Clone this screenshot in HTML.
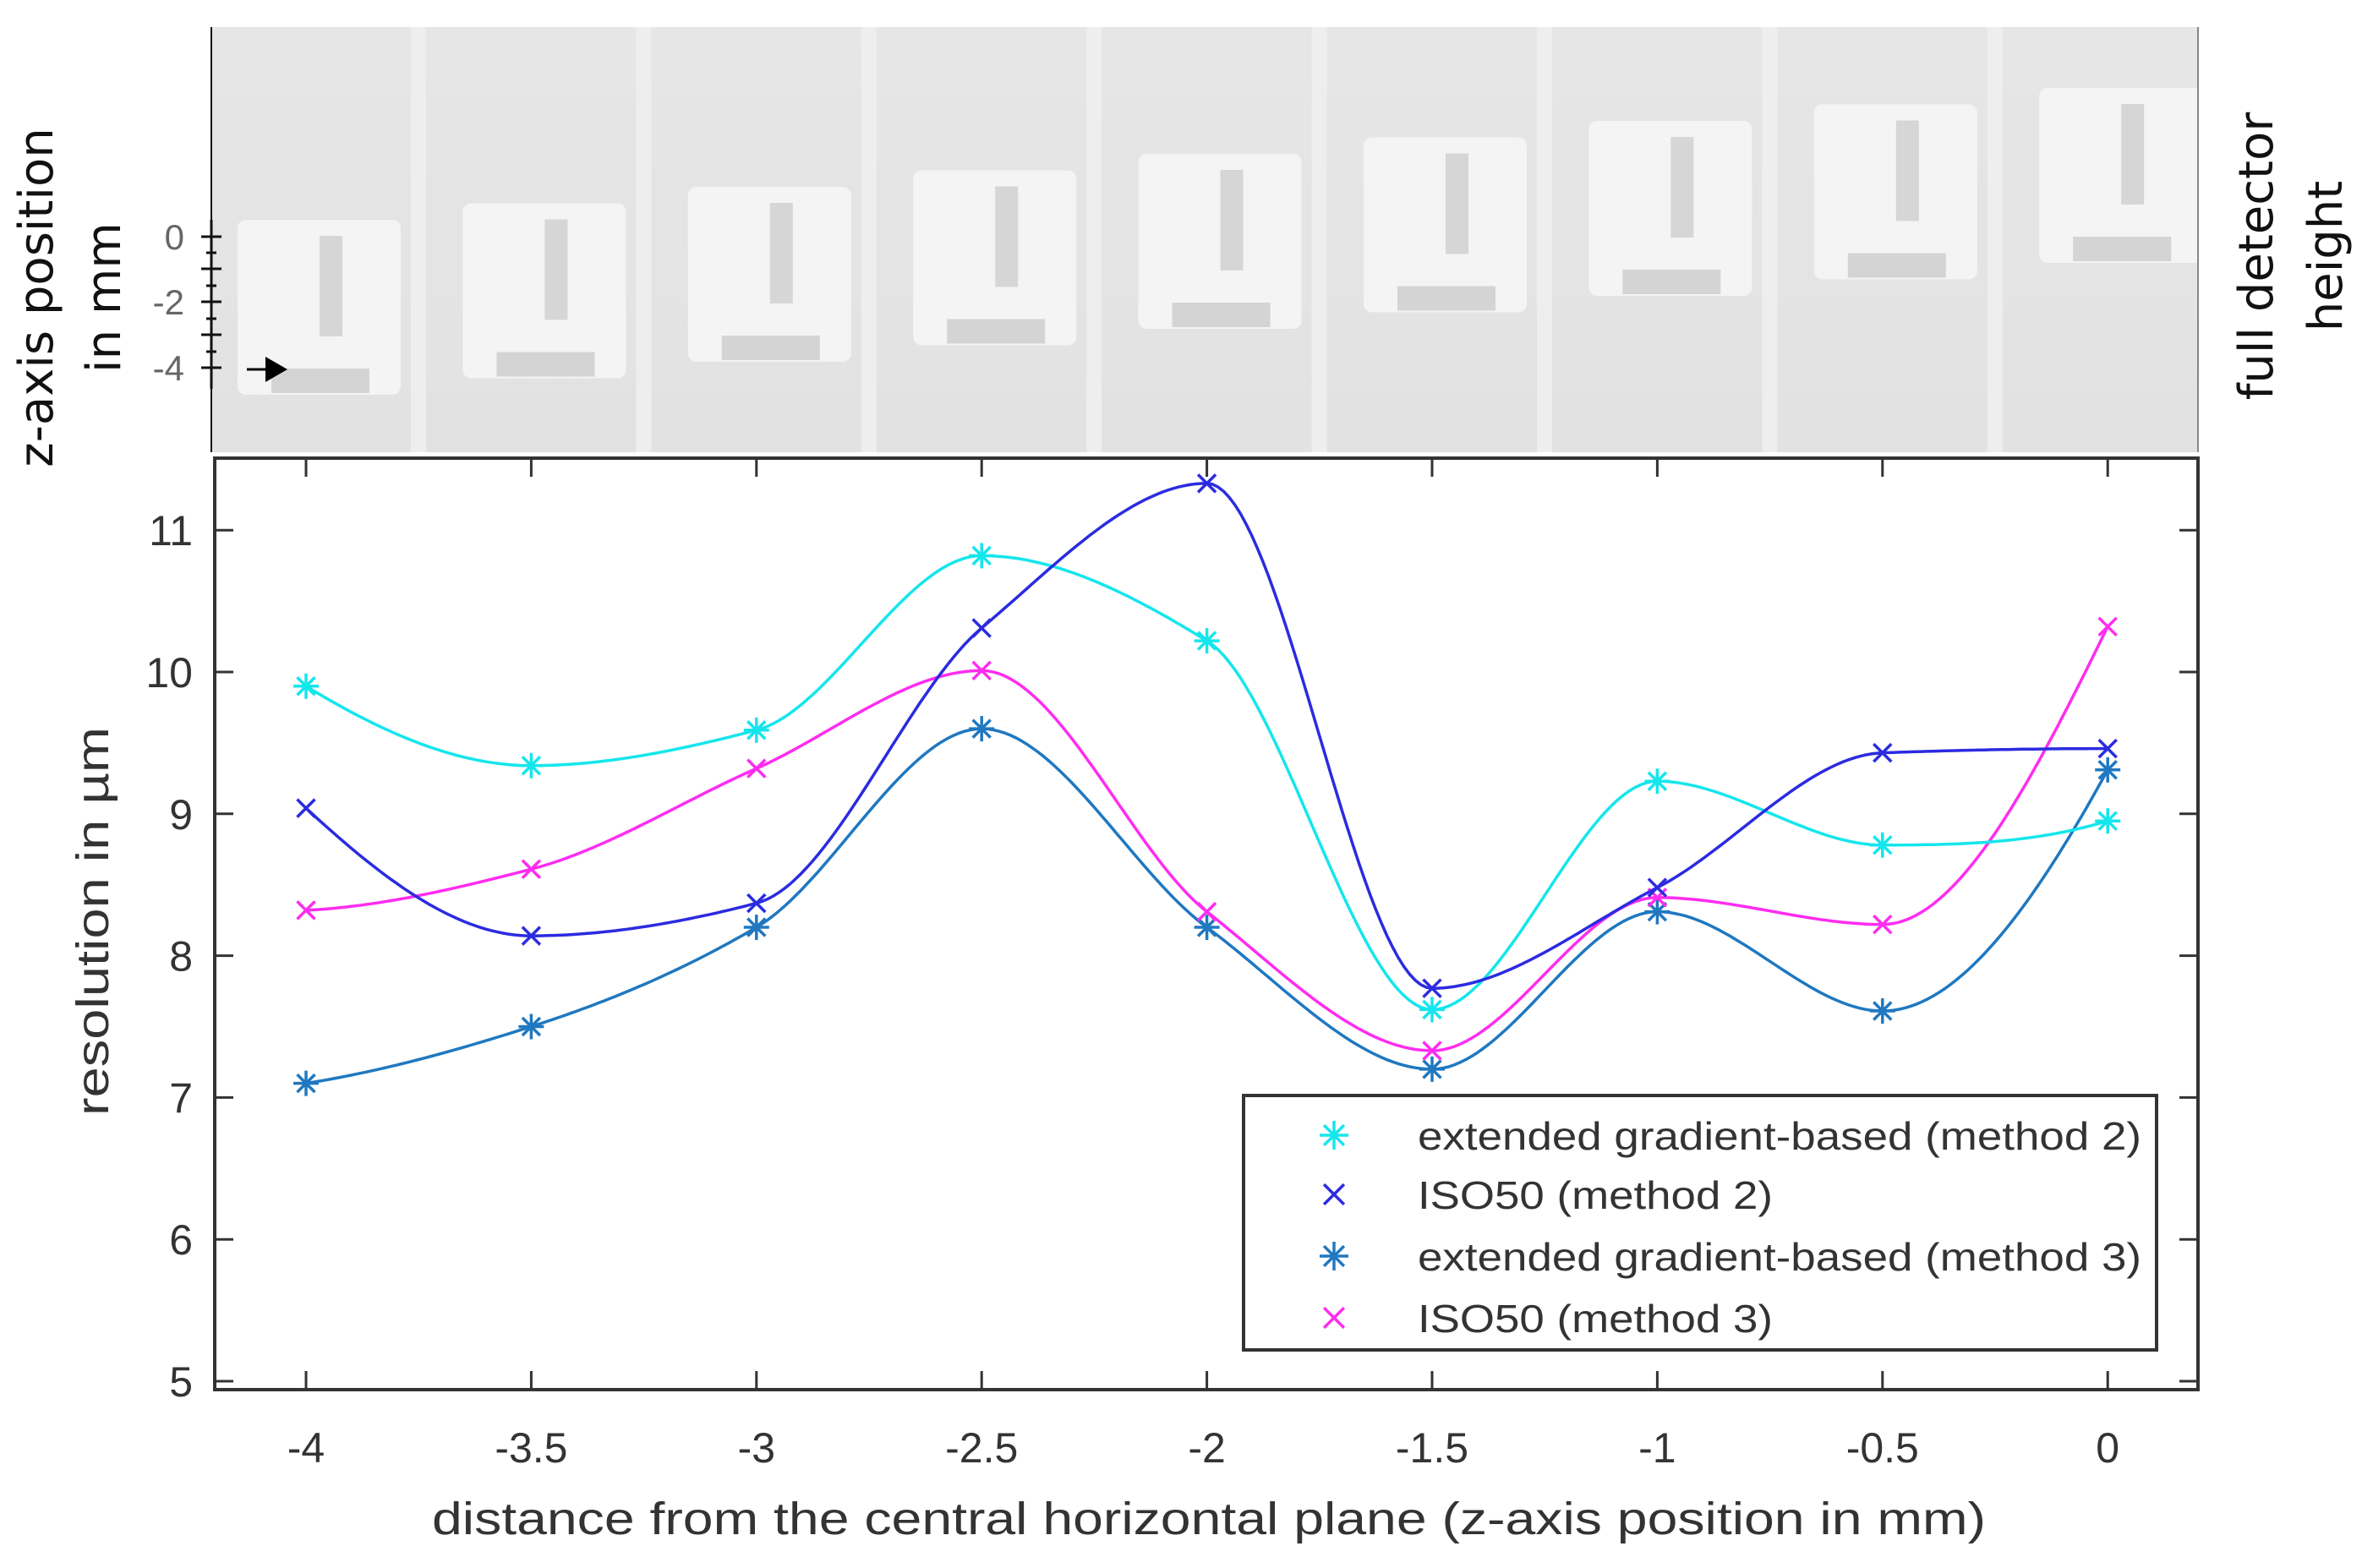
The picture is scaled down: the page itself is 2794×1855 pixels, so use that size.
<!DOCTYPE html>
<html><head><meta charset="utf-8"><style>
html,body{margin:0;padding:0;background:#fff;}
svg{display:block;font-family:"Liberation Sans",sans-serif;}
</style></head><body>
<svg id="chart" width="2794" height="1855" viewBox="0 0 2794 1855" xmlns="http://www.w3.org/2000/svg">
<defs>
<linearGradient id="bg" x1="0" y1="0" x2="0" y2="1"><stop offset="0" stop-color="#e6e6e6"/><stop offset="1" stop-color="#e2e2e2"/></linearGradient>
<clipPath id="imgClip"><rect x="250" y="32" width="2350" height="503"/></clipPath>
</defs>
<g id="topImg" clip-path="url(#imgClip)">
<rect x="250" y="32" width="2350" height="503" fill="url(#bg)"/>
</g>
<line x1="250" y1="32" x2="250" y2="535" stroke="#111" stroke-width="2"/>
<line x1="2600" y1="32" x2="2600" y2="535" stroke="#888" stroke-width="2"/>
<g stroke="#111" stroke-width="3">
<line x1="250" y1="260" x2="250" y2="460"/>
<line x1="238" y1="280" x2="262" y2="280"/><line x1="244" y1="299" x2="256" y2="299"/>
<line x1="238" y1="318" x2="262" y2="318"/><line x1="244" y1="338" x2="256" y2="338"/>
<line x1="238" y1="357" x2="262" y2="357"/><line x1="244" y1="377" x2="256" y2="377"/>
<line x1="238" y1="396" x2="262" y2="396"/><line x1="244" y1="416" x2="256" y2="416"/>
<line x1="238" y1="435" x2="262" y2="435"/>
</g>
<g fill="#666" font-size="42" text-anchor="end">
<text x="218" y="295">0</text><text x="218" y="372">-2</text><text x="218" y="450">-4</text>
</g>
<g>
<line x1="292" y1="437" x2="318" y2="437" stroke="#000" stroke-width="3"/>
<polygon points="314,422 340,437 314,452" fill="#000"/>
</g>
<text transform="translate(62,352) rotate(-90)" text-anchor="middle" font-family="DejaVu Sans, sans-serif" font-size="56" fill="#111">z-axis position</text>
<text transform="translate(142,352) rotate(-90)" text-anchor="middle" font-family="DejaVu Sans, sans-serif" font-size="56" fill="#111">in mm</text>
<text transform="translate(2688,303) rotate(-90)" text-anchor="middle" font-family="DejaVu Sans, sans-serif" font-size="56" fill="#111">full detector</text>
<text transform="translate(2770,303) rotate(-90)" text-anchor="middle" font-family="DejaVu Sans, sans-serif" font-size="56" fill="#111">height</text>

<rect x="254" y="542" width="2346" height="1102" fill="#fff" stroke="#333" stroke-width="4"/>
<g id="axes"></g>
<g id="series"></g>
<g id="legend"></g>
<text transform="translate(128,1090) rotate(-90)" text-anchor="middle" font-size="54" fill="#333" textLength="460" lengthAdjust="spacingAndGlyphs">resolution in µm</text>
<text x="1430" y="1815" text-anchor="middle" font-size="54" fill="#333" textLength="1838" lengthAdjust="spacingAndGlyphs">distance from the central horizontal plane (z-axis position in mm)</text>
</svg>
<script>
const categories = [-4, -3.5, -3, -2.5, -2, -1.5, -1, -0.5, 0];
const xTickLabels = ["-4", "-3.5", "-3", "-2.5", "-2", "-1.5", "-1", "-0.5", "0"];
const yTicks = [5, 6, 7, 8, 9, 10, 11];
const extGradM2 = [9.9, 9.34, 9.59, 10.82, 10.22, 7.62, 9.23, 8.78, 8.95];
const iso50M2 = [9.04, 8.14, 8.37, 10.31, 11.33, 7.77, 8.48, 9.43, 9.46];
const extGradM3 = [7.1, 7.5, 8.2, 9.6, 8.2, 7.2, 8.31, 7.61, 9.31];
const iso50M3 = [8.32, 8.61, 9.32, 10.01, 8.31, 7.33, 8.41, 8.22, 10.32];
const seriesNames = ["extended gradient-based (method 2)", "ISO50 (method 2)", "extended gradient-based (method 3)", "ISO50 (method 3)"];

const NS = "http://www.w3.org/2000/svg";
const X0 = 362, XS = 266.4 / 0.5;
const Y0 = 1634, YS = 167.8;
const xs = v => X0 + (v + 4) * XS;
const ys = v => Y0 - (v - 5) * YS;
function mk(tag, attrs, parent) {
  const e = document.createElementNS(NS, tag);
  for (const k in attrs) e.setAttribute(k, attrs[k]);
  parent.appendChild(e);
  return e;
}

// top image panels
const topGroup = document.getElementById('topImg');
categories.forEach((c, i) => {
  const cx = xs(c) + 12, dy = -19.5 * i;
  const stripe = mk('rect', {x: cx + 112, y: 32, width: 18, height: 503, fill: '#eeeeee'}, topGroup);
  
  
  const box = mk('rect', {x: cx - 93, y: 260 + dy, width: 193, height: 207, rx: 10, fill: '#f4f4f4'}, topGroup);
  
  
  const hb = mk('rect', {x: cx - 53, y: 436 + dy, width: 116, height: 29, fill: '#d4d4d4'}, topGroup);
  
  
  const vb = mk('rect', {x: cx + 4, y: 279 + dy, width: 27, height: 119, fill: '#d6d6d6'}, topGroup);
  
  
});

// axes
const ax = document.getElementById('axes');
categories.forEach((c, i) => {
  const x = xs(c);
  const t1 = mk('line', {x1: x, y1: 1644, x2: x, y2: 1622, stroke: '#333', 'stroke-width': 3}, ax);
  
  
  const t2 = mk('line', {x1: x, y1: 542, x2: x, y2: 564, stroke: '#333', 'stroke-width': 3}, ax);
  
  
  const lb = mk('text', {x: x, y: 1730, 'text-anchor': 'middle', 'font-size': 50, fill: '#333'}, ax);
  lb.textContent = xTickLabels[i];
  
  
});
yTicks.forEach(v => {
  const y = ys(v);
  const t1 = mk('line', {x1: 254, y1: y, x2: 276, y2: y, stroke: '#333', 'stroke-width': 3}, ax);
  
  
  const t2 = mk('line', {x1: 2600, y1: y, x2: 2578, y2: y, stroke: '#333', 'stroke-width': 3}, ax);
  
  
  const lb = mk('text', {x: 228, y: y + 18, 'text-anchor': 'end', 'font-size': 50, fill: '#333'}, ax);
  lb.textContent = String(v);
  
  
});

// pchip (shape-preserving cubic)
function pchip(xv, yv) {
  const n = xv.length, h = [], del = [], m = new Array(n);
  for (let i = 0; i < n - 1; i++) { h[i] = xv[i + 1] - xv[i]; del[i] = (yv[i + 1] - yv[i]) / h[i]; }
  for (let i = 1; i < n - 1; i++) {
    if (del[i - 1] * del[i] <= 0) m[i] = 0;
    else {
      const w1 = 2 * h[i] + h[i - 1], w2 = h[i] + 2 * h[i - 1];
      m[i] = (w1 + w2) / (w1 / del[i - 1] + w2 / del[i]);
    }
  }
  function endSlope(h0, h1, d0, d1) {
    let d = ((2 * h0 + h1) * d0 - h0 * d1) / (h0 + h1);
    if (Math.sign(d) !== Math.sign(d0)) d = 0;
    else if (Math.sign(d0) !== Math.sign(d1) && Math.abs(d) > Math.abs(3 * d0)) d = 3 * d0;
    return d;
  }
  m[0] = endSlope(h[0], h[1], del[0], del[1]);
  m[n - 1] = endSlope(h[n - 2], h[n - 3], del[n - 2], del[n - 3]);
  const pts = [];
  for (let j = 0; j < n - 1; j++) {
    for (let k = 0; k < 40; k++) {
      const t = k / 40, t2 = t * t, t3 = t2 * t;
      const y = (2 * t3 - 3 * t2 + 1) * yv[j] + (t3 - 2 * t2 + t) * h[j] * m[j] + (-2 * t3 + 3 * t2) * yv[j + 1] + (t3 - t2) * h[j] * m[j + 1];
      pts.push([xv[j] + t * h[j], y]);
    }
  }
  pts.push([xv[n - 1], yv[n - 1]]);
  return pts;
}
function marker(parent, type, x, y, color, r) {
  const g = mk('g', {stroke: color, 'stroke-width': 3.5}, parent);
  if (type === 'star') {
    mk('line', {x1: x - r, y1: y, x2: x + r, y2: y}, g);
    mk('line', {x1: x, y1: y - r, x2: x, y2: y + r}, g);
  }
  const q = r * 0.7;
  mk('line', {x1: x - q, y1: y - q, x2: x + q, y2: y + q}, g);
  mk('line', {x1: x - q, y1: y + q, x2: x + q, y2: y - q}, g);
  return g;
}
const seriesData = [extGradM2, iso50M2, extGradM3, iso50M3];
const colors = ['#14e6ec', '#2b2be0', '#1f78c0', '#ff2cf0'];
const types = ['star', 'x', 'star', 'x'];
const ids = ['series-ext-grad-m2', 'series-iso50-m2', 'series-ext-grad-m3', 'series-iso50-m3'];
const sg = document.getElementById('series');
[2, 3, 0, 1].forEach(s => {
  const g = mk('g', {}, sg);
  
  
  const pts = pchip(categories, seriesData[s]);
  const p = mk('polyline', {points: pts.map(q => xs(q[0]).toFixed(1) + ',' + ys(q[1]).toFixed(1)).join(' '), fill: 'none', stroke: colors[s], 'stroke-width': 3.5}, g);
  
  
  seriesData[s].forEach((v, i) => {
    const m = marker(g, types[s], xs(categories[i]), ys(v), colors[s], 15);
    
    
  });
});

// legend
const lg = document.getElementById('legend');
const lbox = mk('rect', {x: 1471, y: 1296, width: 1080, height: 301, fill: '#fff', stroke: '#333', 'stroke-width': 4}, lg);


const rowY = [1343, 1413, 1486, 1559];
const textW = [856, 420, 856, 420];
seriesNames.forEach((name, i) => {
  const g = mk('g', {}, lg);
  
  
  marker(g, types[i], 1578, rowY[i], colors[i], 17);
  const t = mk('text', {x: 1677, y: rowY[i] + 17, 'font-size': 46, fill: '#333', textLength: textW[i], lengthAdjust: 'spacingAndGlyphs'}, g);
  t.textContent = name;
});
</script>
</body></html>
